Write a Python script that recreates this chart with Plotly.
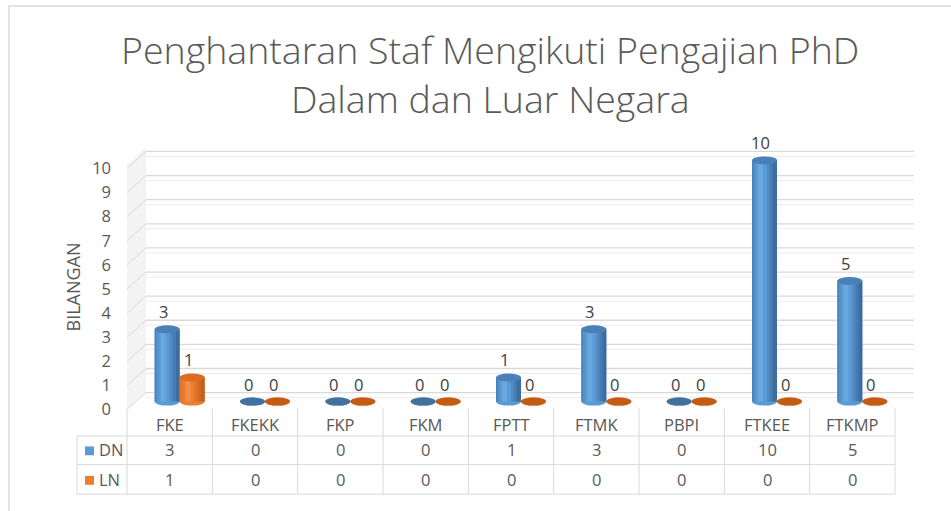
import plotly.graph_objects as go

# ---- data -------------------------------------------------------------
categories = ["FKE", "FKEKK", "FKP", "FKM", "FPTT", "FTMK", "PBPI", "FTKEE", "FTKMP"]
dn_values = [3, 0, 0, 0, 1, 3, 0, 10, 5]
ln_values = [1, 0, 0, 0, 0, 0, 0, 0, 0]
series_names = ["DN", "LN"]
y_ticks = list(range(0, 11))

title_lines = ["Penghantaran Staf Mengikuti Pengajian PhD", "Dalam dan Luar Negara"]
y_title = "BILANGAN"

# ---- look -------------------------------------------------------------
W, H = 951, 511
FONT = "Open Sans"
TEXT = "#595959"
GRID = "#d9d9d9"
LABEL_SIZE = 16.5

series_style = {
    "DN": dict(face="#5b9bd5", top="#4a80b8", flat="#41719c",
               strips=[(0, 2, "#4a84bd"), (2, 4, "#5492cc"), (6, 11, "#68a8df"),
                       (15, 18, "#508ac2"), (18, 21, "#477bb0"), (21, 25, "#3e6c9d")]),
    "LN": dict(face="#ed7d31", top="#dc6c22", flat="#c55a11",
               strips=[(0, 2, "#df712a"), (2, 4, "#e97a30"), (6, 11, "#f38d48"),
                       (15, 18, "#e0722a"), (18, 21, "#d26824"), (21, 25, "#c25e1f")]),
}

# 3D box geometry (pixels)
FRONT_LEFT = 127          # front-left corner of the floor / table columns
COL = 768 / 9             # width of one category column
BAR_DX, BAR_DY = 10, 8    # bars sit half way into the box
BACK_DX, BACK_DY = 19, 17 # back wall offset from the front edge
BASE_Y = 408              # pixel row of the bar bases
UNIT = 24.5               # pixels per count
BAR_W = 25                # bar width in pixels
ELL_H = 8                 # height of the cylinder cap ellipse
Y_LO, Y_HI = -0.45, 11.3
X_LEFT = 120
X_RIGHT = FRONT_LEFT + 9 * COL + BACK_DX + 2


def px(x):
    return x / W


def py(y):
    return 1 - y / H


c0 = FRONT_LEFT + BAR_DX + 0.5 * COL
x_range = [(X_LEFT - c0) / COL, (X_RIGHT - c0) / COL]
y_domain = [py(BASE_Y - Y_LO * UNIT), py(BASE_Y - Y_HI * UNIT)]

fig = go.Figure()

values_by_series = {"DN": dn_values, "LN": ln_values}
for name in series_names:
    fig.add_trace(go.Bar(
        x=categories, y=values_by_series[name], name=name,
        marker=dict(color=series_style[name]["face"], line=dict(width=0)),
        hoverinfo="x+y+name",
    ))

shapes = []
line_back = dict(color=GRID, width=1.3)

# side wall fill
top_px = y_ticks[-1] * UNIT
shapes.append(dict(
    type="path", xref="paper", yref="y", ysizemode="pixel", yanchor=0,
    path=(f"M {px(FRONT_LEFT)},{-BAR_DY} L {px(FRONT_LEFT + BACK_DX)},{BACK_DY - BAR_DY} "
          f"L {px(FRONT_LEFT + BACK_DX)},{BACK_DY - BAR_DY + top_px} "
          f"L {px(FRONT_LEFT)},{-BAR_DY + top_px} Z"),
    fillcolor="#f3f3f3", line=dict(width=0), layer="below"))

# back wall and side wall gridlines
for v in y_ticks:
    shapes.append(dict(
        type="line", xref="paper", yref="y", ysizemode="pixel", yanchor=v,
        x0=px(FRONT_LEFT + BACK_DX), x1=px(FRONT_LEFT + 9 * COL + BACK_DX),
        y0=BACK_DY - BAR_DY, y1=BACK_DY - BAR_DY, line=line_back, layer="below"))
    shapes.append(dict(
        type="line", xref="paper", yref="y", ysizemode="pixel", yanchor=v,
        x0=px(FRONT_LEFT + BACK_DX), x1=px(FRONT_LEFT + 9 * COL + BACK_DX),
        y0=BACK_DY - BAR_DY - 5, y1=BACK_DY - BAR_DY - 5,
        line=dict(color="#ececec", width=1), layer="below"))
    shapes.append(dict(
        type="line", xref="paper", yref="y", ysizemode="pixel", yanchor=v,
        x0=px(FRONT_LEFT), x1=px(FRONT_LEFT + BACK_DX),
        y0=-BAR_DY, y1=BACK_DY - BAR_DY, line=dict(color=GRID, width=1), layer="below"))

# cylinders: bottom rims, shading strips and caps
for s_idx, name in enumerate(series_names):
    st = series_style[name]
    left = -BAR_W if s_idx == 0 else 0
    for i, v in enumerate(values_by_series[name]):
        shapes.append(dict(
            type="circle", xref="x", xsizemode="pixel", xanchor=i,
            x0=left, x1=left + BAR_W, yref="y", ysizemode="pixel", yanchor=0,
            y0=-ELL_H / 2, y1=ELL_H / 2, fillcolor=st["face"], line=dict(width=0),
            layer="below"))
        if v > 0:
            for a, b, col in st["strips"]:
                shapes.append(dict(
                    type="rect", xref="x", xsizemode="pixel", xanchor=i,
                    x0=left + a, x1=left + b, yref="y", y0=0, y1=v,
                    fillcolor=col, line=dict(width=0), layer="above"))
        shapes.append(dict(
            type="circle", xref="x", xsizemode="pixel", xanchor=i,
            x0=left, x1=left + BAR_W, yref="y", ysizemode="pixel", yanchor=v,
            y0=-ELL_H / 2, y1=ELL_H / 2,
            fillcolor=st["top"] if v > 0 else st["flat"], line=dict(width=0),
            layer="above"))

# data table grid
TABLE_TOP, ROW1, ROW2, ROW3 = 415, 443, 472, 502
LEG_LEFT = 77
table_right = FRONT_LEFT + 9 * COL
for yy in (ROW1, ROW2, ROW3):
    shapes.append(dict(type="line", xref="paper", yref="paper",
                       x0=px(LEG_LEFT), x1=px(table_right), y0=py(yy), y1=py(yy),
                       line=dict(color=GRID, width=1)))
shapes.append(dict(type="line", xref="paper", yref="paper",
                   x0=px(LEG_LEFT), x1=px(LEG_LEFT), y0=py(ROW1), y1=py(ROW3),
                   line=dict(color=GRID, width=1)))
for k in range(len(categories) + 1):
    shapes.append(dict(type="line", xref="x", xsizemode="pixel", xanchor=k - 0.5,
                       x0=-BAR_DX, x1=-BAR_DX, yref="paper",
                       y0=py(TABLE_TOP), y1=py(ROW3), line=dict(color=GRID, width=1)))

# legend keys inside the table
ROW_TEXT = [457, 487]
for name, ymid in zip(series_names, ROW_TEXT):
    shapes.append(dict(type="rect", xref="paper", yref="paper",
                       x0=px(85), x1=px(94), y0=py(ymid - 3.5), y1=py(ymid + 5.5),
                       fillcolor=series_style[name]["face"], line=dict(width=0)))

# outer frame
shapes.append(dict(type="rect", xref="paper", yref="paper",
                   x0=px(9), x1=px(W + 20), y0=py(6), y1=py(H + 20),
                   line=dict(color=GRID, width=1.5), fillcolor="rgba(0,0,0,0)"))

annotations = []
font_small = dict(family=FONT, size=LABEL_SIZE, color=TEXT)

# title
for line, ymid in zip(title_lines, [50, 100]):
    annotations.append(dict(text=line, xref="paper", yref="paper", x=px(490), y=py(ymid),
                            xanchor="center", yanchor="middle", showarrow=False,
                            font=dict(family=FONT, size=37.5, color=TEXT, weight=300)))

# y axis title
annotations.append(dict(text=y_title, xref="paper", yref="paper", x=px(73), y=py(292),
                        textangle=-90, showarrow=False, xanchor="center", yanchor="middle",
                        font=dict(family=FONT, size=18, color=TEXT)))

# value labels above the cylinders
for s_idx, name in enumerate(series_names):
    shift = (-BAR_W / 2 if s_idx == 0 else BAR_W / 2) - 4
    for i, v in enumerate(values_by_series[name]):
        annotations.append(dict(text=str(v), x=i, y=v, xref="x", yref="y",
                                xshift=shift, yshift=4, yanchor="bottom",
                                showarrow=False,
                                font=dict(family=FONT, size=LABEL_SIZE, color="#404040")))

# table text
for i, cat in enumerate(categories):
    annotations.append(dict(text=cat, x=i, xref="x", xshift=-BAR_DX, y=py(431),
                            yref="paper", yanchor="middle", showarrow=False,
                            font=font_small))
    for name, ymid in zip(series_names, ROW_TEXT):
        annotations.append(dict(text=str(values_by_series[name][i]), x=i, xref="x",
                                xshift=-BAR_DX, y=py(ymid), yref="paper",
                                yanchor="middle", showarrow=False, font=font_small))
for name, ymid in zip(series_names, ROW_TEXT):
    annotations.append(dict(text=name, x=px(97), y=py(ymid), xref="paper", yref="paper",
                            xanchor="left", yanchor="middle", showarrow=False,
                            font=font_small))

fig.update_layout(
    width=W, height=H,
    margin=dict(l=0, r=0, t=0, b=0),
    paper_bgcolor="white", plot_bgcolor="rgba(0,0,0,0)",
    barmode="group", bargap=1 - 2 * BAR_W / COL, bargroupgap=0,
    showlegend=False,
    font=dict(family=FONT, color=TEXT),
    xaxis=dict(domain=[px(X_LEFT), px(X_RIGHT)], range=x_range, type="category",
               showticklabels=False, showgrid=False, zeroline=False, showline=False,
               fixedrange=True),
    yaxis=dict(domain=y_domain, range=[Y_LO, Y_HI], tickvals=y_ticks,
               ticktext=[str(t) for t in y_ticks], showgrid=False, zeroline=False,
               showline=False, ticks="", ticklabelshift=BAR_DY, ticklabelstandoff=8,
               tickfont=dict(family=FONT, size=LABEL_SIZE, color=TEXT), fixedrange=True),
    shapes=shapes,
    annotations=annotations,
)

fig.write_html("out.html")
